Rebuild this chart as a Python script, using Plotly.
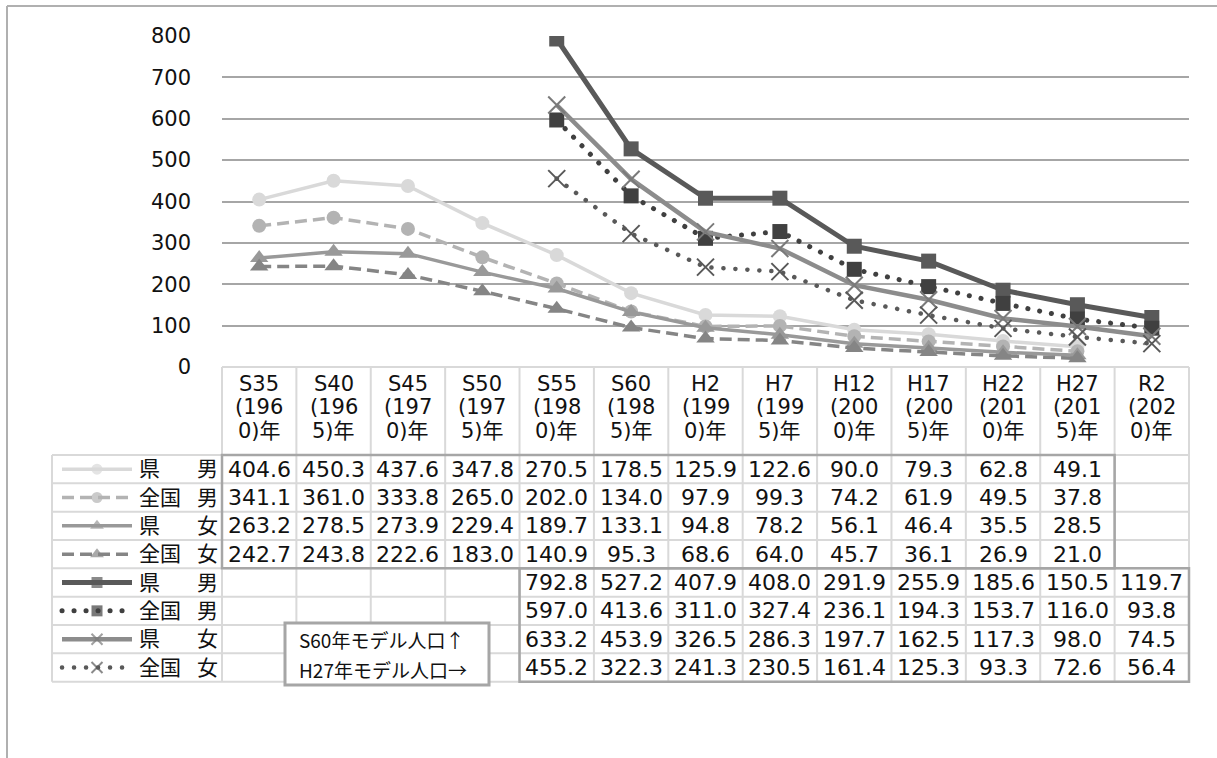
import plotly.graph_objects as go

# ---------------- data ----------------
categories = ["S35<br>(196<br>0)年", "S40<br>(196<br>5)年", "S45<br>(197<br>0)年", "S50<br>(197<br>5)年",
              "S55<br>(198<br>0)年", "S60<br>(198<br>5)年", "H2<br>(199<br>0)年", "H7<br>(199<br>5)年",
              "H12<br>(200<br>0)年", "H17<br>(200<br>5)年", "H22<br>(201<br>0)年", "H27<br>(201<br>5)年",
              "R2<br>(202<br>0)年"]

# S60 model population (S35 .. H27)
s60_pref_male = [404.6, 450.3, 437.6, 347.8, 270.5, 178.5, 125.9, 122.6, 90.0, 79.3, 62.8, 49.1]
s60_nat_male = [341.1, 361.0, 333.8, 265.0, 202.0, 134.0, 97.9, 99.3, 74.2, 61.9, 49.5, 37.8]
s60_pref_female = [263.2, 278.5, 273.9, 229.4, 189.7, 133.1, 94.8, 78.2, 56.1, 46.4, 35.5, 28.5]
s60_nat_female = [242.7, 243.8, 222.6, 183.0, 140.9, 95.3, 68.6, 64.0, 45.7, 36.1, 26.9, 21.0]

# H27 model population (S55 .. R2)
h27_pref_male = [792.8, 527.2, 407.9, 408.0, 291.9, 255.9, 185.6, 150.5, 119.7]
h27_nat_male = [597.0, 413.6, 311.0, 327.4, 236.1, 194.3, 153.7, 116.0, 93.8]
h27_pref_female = [633.2, 453.9, 326.5, 286.3, 197.7, 162.5, 117.3, 98.0, 74.5]
h27_nat_female = [455.2, 322.3, 241.3, 230.5, 161.4, 125.3, 93.3, 72.6, 56.4]

row_labels = [("県", "男"), ("全国", "男"), ("県", "女"), ("全国", "女"),
              ("県", "男"), ("全国", "男"), ("県", "女"), ("全国", "女")]
y_ticks = [0, 100, 200, 300, 400, 500, 600, 700, 800]
note_lines = ["S60年モデル人口↑", "H27年モデル人口→"]

# ---------------- layout constants ----------------
W, H = 1217, 758
PX0, PX1 = 222, 1189          # plot area left/right (pixels)
PY_TOP, PY_ZERO = 36, 367     # y pixel of 800 and of 0
NCAT = len(categories)
FONT = "DejaVu Sans, Noto Sans CJK JP, sans-serif"


def px(x):
    return x / W


def py(y):
    return 1 - y / H


col_w = (PX1 - PX0) / NCAT
col_edges = [PX0 + k * col_w for k in range(NCAT + 1)]
ROW0 = 455
row_h = (681.7 - ROW0) / 8
row_edges = [ROW0 + k * row_h for k in range(9)]
row_centers = [ROW0 + (k + 0.5) * row_h for k in range(8)]

idx_a = list(range(0, 12))
idx_b = list(range(4, 13))

DOT = "4px,8px"
series = [
    dict(x=idx_a, y=s60_pref_male, color="#d9d9d9", dash="solid", width=3.5, symbol="circle", msize=14, lsize=11, mcolor="#d9d9d9"),
    dict(x=idx_a, y=s60_nat_male, color="#b3b3b3", dash="12px,6px", width=3.5, symbol="circle", msize=14, lsize=11, mcolor="#b3b3b3"),
    dict(x=idx_a, y=s60_pref_female, color="#999999", dash="solid", width=3.5, symbol="triangle-up", msize=16, lsize=12, mcolor="#999999"),
    dict(x=idx_a, y=s60_nat_female, color="#858585", dash="12px,6px", width=3.5, symbol="triangle-up", msize=16, lsize=12, mcolor="#858585"),
    dict(x=idx_b, y=h27_pref_male, color="#595959", dash="solid", width=5, symbol="square", msize=15, lsize=11, mcolor="#595959"),
    dict(x=idx_b, y=h27_nat_male, color="#404040", dash=DOT, width=5, symbol="square", msize=15, lsize=11, mcolor="#404040"),
    dict(x=idx_b, y=h27_pref_female, color="#8c8c8c", dash="solid", width=4.5, symbol="x-thin", msize=17, lsize=11, mcolor="#7a7a7a"),
    dict(x=idx_b, y=h27_nat_female, color="#595959", dash=DOT, width=4.5, symbol="x-thin", msize=17, lsize=11, mcolor="#595959"),
]

fig = go.Figure()

for s in series:
    thin = s["symbol"] == "x-thin"
    fig.add_trace(go.Scatter(
        x=s["x"], y=s["y"], mode="lines+markers", xaxis="x", yaxis="y",
        line=dict(color=s["color"], width=s["width"], dash=s["dash"]),
        marker=dict(symbol=s["symbol"], size=s["msize"], color=s["mcolor"],
                    line=dict(color=s["mcolor"], width=2 if thin else 0)),
        showlegend=False, hoverinfo="skip"))

# legend samples in the table's first column (pixel overlay axes)
for k, s in enumerate(series):
    yc = row_centers[k]
    thin = s["symbol"] == "x-thin"
    fig.add_trace(go.Scatter(
        x=[62, 97, 132], y=[yc, yc, yc], mode="lines+markers", xaxis="x2", yaxis="y2",
        line=dict(color=s["color"], width=s["width"], dash=s["dash"]),
        marker=dict(symbol=s["symbol"], size=[0, s["lsize"], 0], color=s["mcolor"],
                    line=dict(color=s["mcolor"], width=2 if thin else 0)),
        showlegend=False, hoverinfo="skip"))

shapes = []
GRID = "#d9d9d9"
DARK = "#a6a6a6"


def line(x0, y0, x1, y1, color, width):
    shapes.append(dict(type="line", xref="paper", yref="paper",
                       x0=px(x0), y0=py(y0), x1=px(x1), y1=py(y1),
                       line=dict(color=color, width=width), layer="above"))


# outer chart border (left and top)
line(7, 6, 7, H + 5, "#b0b0b0", 2)
line(7, 6, W + 5, 6, "#b0b0b0", 2)

# table grid
line(PX0, PY_ZERO, PX1, PY_ZERO, GRID, 2)
for ry in row_edges:
    line(52, ry, PX1, ry, GRID, 2)
for cx in col_edges:
    line(cx, PY_ZERO, cx, row_edges[-1], GRID, 2)
line(52, ROW0, 52, row_edges[-1], GRID, 2)

# block borders
shapes.append(dict(type="rect", xref="paper", yref="paper",
                   x0=px(col_edges[0]), x1=px(col_edges[12]), y0=py(row_edges[0]), y1=py(row_edges[4]),
                   line=dict(color=DARK, width=2.5), layer="above"))
shapes.append(dict(type="rect", xref="paper", yref="paper",
                   x0=px(col_edges[4]), x1=px(col_edges[13]), y0=py(row_edges[4]), y1=py(row_edges[8]),
                   line=dict(color=DARK, width=2.5), layer="above"))

# note box
shapes.append(dict(type="rect", xref="paper", yref="paper",
                   x0=px(285), x1=px(489), y0=py(623), y1=py(685),
                   fillcolor="white", line=dict(color=DARK, width=3), layer="above"))

annotations = []
TXT = "#111111"

# category header
for i, cat in enumerate(categories):
    for j, part in enumerate(cat.split("<br>")):
        annotations.append(dict(xref="x", yref="paper", x=i, y=py(384 + j * 23.5),
                                text=part, showarrow=False, xanchor="center", yanchor="middle",
                                font=dict(family=FONT, size=21, color=TXT)))

# values
all_rows = [(idx_a, s60_pref_male), (idx_a, s60_nat_male), (idx_a, s60_pref_female), (idx_a, s60_nat_female),
            (idx_b, h27_pref_male), (idx_b, h27_nat_male), (idx_b, h27_pref_female), (idx_b, h27_nat_female)]
for k, (idx, vals) in enumerate(all_rows):
    for i, v in zip(idx, vals):
        annotations.append(dict(xref="x", yref="paper", x=i, y=py(row_centers[k]),
                                text=f"{v:.1f}", showarrow=False, xanchor="center", yanchor="middle",
                                font=dict(family=FONT, size=22, color=TXT)))

# row labels
for k, (a, b) in enumerate(row_labels):
    annotations.append(dict(xref="paper", yref="paper", x=px(137), y=py(row_centers[k]),
                            text=a, showarrow=False, xanchor="left", yanchor="middle",
                            font=dict(family=FONT, size=21, color=TXT)))
    annotations.append(dict(xref="paper", yref="paper", x=px(195), y=py(row_centers[k]),
                            text=b, showarrow=False, xanchor="left", yanchor="middle",
                            font=dict(family=FONT, size=21, color=TXT)))

# note text
for j, t in enumerate(note_lines):
    annotations.append(dict(xref="paper", yref="paper", x=px(297), y=py(639 + j * 30),
                            text=t, showarrow=False, xanchor="left", yanchor="middle",
                            font=dict(family="Noto Sans CJK JP, sans-serif", size=19, color=TXT)))

fig.update_layout(
    width=W, height=H, margin=dict(l=0, r=0, t=0, b=0, pad=0, autoexpand=False),
    paper_bgcolor="white", plot_bgcolor="rgba(0,0,0,0)", showlegend=False,
    xaxis=dict(domain=[px(PX0), px(PX1)], range=[-0.5, NCAT - 0.5], showgrid=False, automargin=False,
               zeroline=False, showticklabels=False, showline=False, fixedrange=True),
    yaxis=dict(domain=[py(PY_ZERO), py(PY_TOP)], range=[0, 800], tickvals=y_ticks, automargin=False,
               showgrid=True, gridcolor="#a6a6a6", gridwidth=2, zeroline=False, showline=False,
               ticks="", ticklabelstandoff=30,
               tickfont=dict(family=FONT, size=21, color=TXT)),
    xaxis2=dict(domain=[0, 1], range=[0, W], visible=False, anchor="y2", automargin=False),
    yaxis2=dict(domain=[0, 1], range=[H, 0], visible=False, anchor="x2", automargin=False),
    shapes=shapes, annotations=annotations,
)

# round dots for the dotted series
post = """
document.body.style.margin='0';document.body.style.overflow='hidden';
document.querySelectorAll('path.js-line').forEach(function(p){
  var d = (p.style.strokeDasharray || '').replace(/\\s/g,'');
  if (d === '4px,8px') { p.style.strokeLinecap = 'round'; p.style.strokeDasharray = '0.1px,11.9px'; }
});
"""
fig.write_html("out.html", config={"displayModeBar": False, "staticPlot": True}, post_script=post)
